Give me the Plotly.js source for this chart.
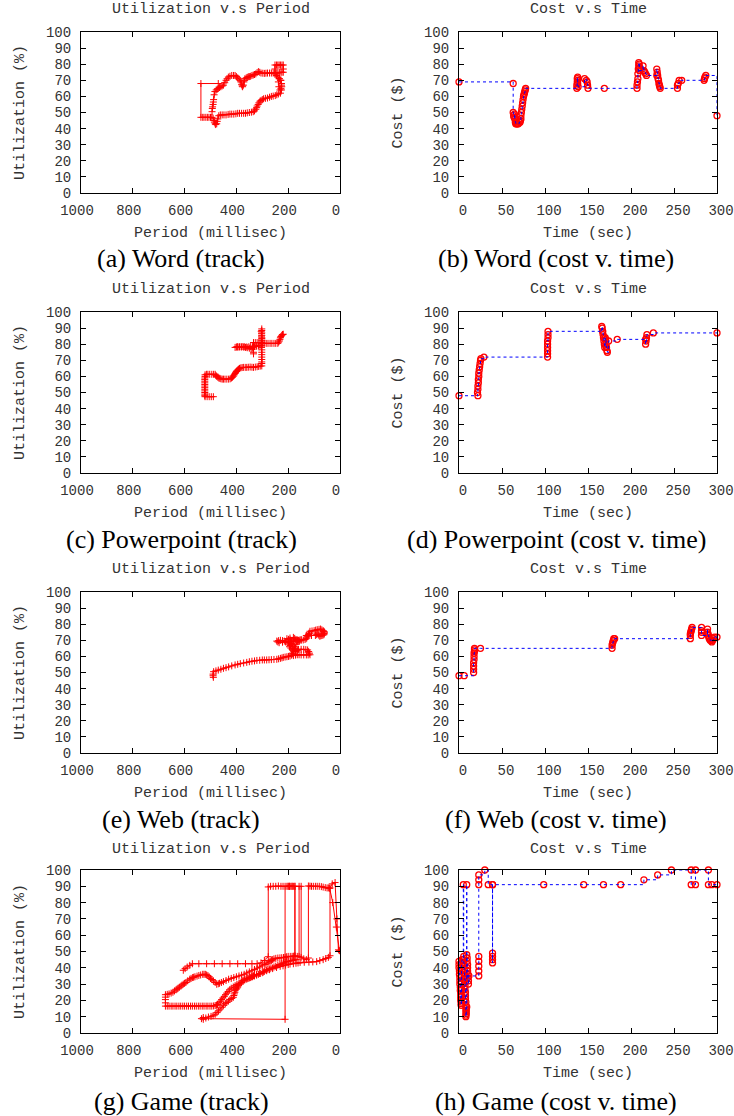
<!DOCTYPE html>
<html><head><meta charset="utf-8">
<script src="https://cdn.plot.ly/plotly-3.0.1.min.js"></script>
<style>html,body{margin:0;padding:0;background:#fff}#chart{width:734px;height:1116px}</style>
</head><body><div id="chart"></div>
<script>
// ---------- DATA ----------
// Track plots: [period (millisec), utilization (%)]
const wordTrack = [[470,68],[537,68],[537,47],[530,47],[525,47],[518,47],[512,47],[506,47],[500,47],[495,47],[490,46.5],[487,45],[485,44],[482,43],[480,42.5],[476,43],[474,44.5],[472,46],[468,48],[462,48.5],[455,48.5],[448,48.5],[440,48.5],[432,48.8],[425,49],[418,49],[410,49],[402,49.2],[395,49.5],[388,49.5],[380,49.5],[372,49.5],[365,49.5],[358,49.8],[350,50],[342,50.2],[335,50.5],[330,51],[325,52],[322,53],[320,54],[316,55],[313,56],[309,57],[305,57.5],[300,58],[295,58.5],[288,58.8],[280,59],[272,59.5],[265,60],[258,60.2],[250,60.5],[244,61],[238,61.5],[230,62],[226,64],[225,66],[226,68],[230,70],[235,71],[238,69],[236,66],[232,64],[228,65],[226,67],[228,70],[234,71],[240,72],[245,73],[250,74],[251,77],[251,79.5],[245,79.5],[240,79.5],[235,79.5],[230,79.5],[224,79.5],[219,79.5],[219,77],[219,75],[224,75],[228,75],[234,74.8],[240,74.5],[246,74.5],[252,74.5],[258,74.5],[265,74.5],[272,74.5],[280,74.5],[286,74.4],[292,74.3],[298,74.4],[305,74.5],[310,75],[315,75.4],[320,74.8],[325,74],[330,73.6],[335,73.3],[340,73],[345,72.5],[350,72.3],[354,72.2],[358,71.8],[362,71.5],[367,71],[369,70],[371,69],[373,67],[376,66],[378,66.5],[380,67.5],[383,69],[386,70],[390,70.8],[395,71.5],[400,72.3],[405,73],[411,73],[418,73],[425,72.5],[431,72],[436,71],[440,70],[445,68.5],[450,67],[455,66.5],[460,66],[465,65.5],[470,65],[474,64.5],[478,64],[483,63],[486,61],[488,58],[489,56.5],[490,55],[492,53.5],[493,52.5],[494,50.5]];
const pptTrack = [[489,47.4],[497,47.4],[505,47.4],[513,47.4],[521,47.4],[522,48],[522,49],[522,50],[522,51],[522,52],[522,53],[522,54],[522,55],[522,56],[522,57],[522,58],[522,59],[521,60],[521,61],[515,61.3],[510,61.3],[503,61.3],[495,61.3],[488,61.3],[482,61.3],[479,60.5],[476,60],[472,59.5],[468,59],[464,58.8],[460,58.5],[455,58.3],[450,58.3],[444,58.3],[437,58.3],[430,58.3],[424,58.5],[419,59],[415,59.5],[411,60.2],[408,61],[405,61.8],[403,62.5],[400,63],[398,63.5],[395,64],[392,64.5],[388,65],[383,65.3],[378,65.5],[373,65.6],[366,65.6],[360,65.6],[354,65.7],[347,65.8],[340,65.7],[334,65.6],[327,65.8],[320,66],[314,66.2],[308,66.4],[302,66.5],[302,68],[302,69],[302,70.5],[302,72],[302,73.5],[302,75],[302,76.5],[303,78],[302,79.5],[302,81],[302,82.5],[302,84],[302,85.5],[302,87],[302,88.5],[302,89.5],[304,88],[303,86.5],[303,85],[302,83.5],[302,82],[303,80.5],[303,79],[309,79],[315,79],[322,78.8],[330,78.5],[338,78.5],[345,78.5],[352,78.4],[360,78.3],[368,78.4],[375,78.5],[382,78.4],[390,78.2],[397,78.1],[405,78],[400,78.3],[395,78.5],[388,78.4],[380,78.3],[372,78.2],[365,78],[358,77.8],[350,77.5],[343,77.2],[336,77],[334,75],[334,74],[336,78],[334,81],[327,81],[320,81],[313,81],[305,81],[300,80.5],[293,80.5],[285,80.5],[278,80.5],[270,80.5],[263,80.5],[255,80.5],[248,80.5],[240,80.5],[237,81.3],[234,82],[232,83],[230,84],[228,84.8],[225,85.5],[222,86],[219,86.2]];
const webTrack = [[489,47],[490,48],[490,49],[488,50.5],[479,51],[470,51.5],[460,52],[450,52.6],[440,53],[430,53.5],[418,54.1],[405,54.7],[395,55.1],[385,55.5],[372,55.9],[360,56.3],[350,56.7],[340,57],[330,57.2],[321,57.5],[310,57.6],[300,57.8],[292,57.8],[283,57.8],[274,57.9],[265,58],[255,58.1],[244,58.2],[237,58.5],[230,58.8],[224,59.1],[219,59.4],[212,59.6],[205,59.8],[199,60],[193,60.2],[187,60.8],[182,61.5],[178,63],[182,63.8],[185,64.5],[190,65.2],[195,66],[192,66.8],[190,67.5],[187,68.2],[185,69],[189,69.6],[193,70.2],[199,70.6],[205,71],[193,71.4],[180,71.8],[175,71.2],[170,70.5],[165,70.2],[160,70],[155,70.2],[150,70.5],[165,70],[180,69.5],[190,69.2],[200,69],[208,69.2],[215,69.5],[222,69.8],[230,70],[237,69.8],[244,69.5],[240,69],[235,68.5],[222,68.8],[210,69],[200,68.5],[190,68],[182,66.5],[175,65],[172,64],[170,63],[165,63.7],[160,64.4],[150,64.4],[140,64.4],[132,64.2],[125,64],[121,63],[118,62],[116,61],[123,60.9],[130,60.9],[140,60.9],[150,60.9],[158,61],[165,61],[172,60.8],[180,60.5],[182,62],[178,64],[175,66],[170,67.5],[165,69],[157,69.5],[150,70],[142,70.2],[135,70.5],[131,71],[128,71.5],[125,72.5],[122,73.5],[119,74.5],[116,75.6],[108,75.8],[100,76],[94,76.3],[88,76.6],[81,76.8],[75,77],[70,76.5],[65,76],[62,75.5],[60,75],[61,74.2],[62,73.5],[66,73.2],[70,73],[74,72.8],[78,72.5],[82,73.2],[85,74],[90,73.5],[95,73],[110,73],[120,74],[130,73]];
const gameTrack = [[605,38.5],[598,39.5],[590,40.5],[580,41.5],[570,42.5],[545,42.5],[515,42.5],[485,42.5],[455,42.5],[425,42.5],[395,42.5],[365,42.5],[340,42.5],[320,42.5],[305,43],[292,44.5],[277,46.8],[277,89.6],[268,90],[258,90],[248,90],[238,90.2],[228,90],[220,90],[212,90],[212,8.4],[528,8.4],[535,8.8],[528,9.5],[518,9.2],[508,9.8],[498,10.2],[490,10.6],[482,11.5],[475,12.5],[469,13.6],[463,14.7],[456,15.8],[450,17],[443,18],[437,18.8],[431,19.6],[425,20.5],[418,21.2],[412,21.9],[410,23],[408,24],[406,25],[405,26],[401,26.8],[398,27.5],[395,28.2],[392,29],[386,30],[380,31],[374,32],[367,33.1],[358,33.5],[350,34],[342,34.5],[334,35.1],[322,35.8],[310,36.5],[296,37.4],[283,38.2],[272,38.8],[260,39.5],[245,40.2],[231,40.9],[220,41.2],[210,41.6],[200,42],[193,42.3],[180,42.5],[170,42.8],[162,43],[154,43.3],[138,43.4],[120,43.5],[105,43.6],[90,43.8],[78,44.4],[65,45],[55,45.7],[45,46.4],[38.6,47.4],[38.6,89],[30,91.5],[19,92.3],[12,70],[6,51],[2,50.5],[14,65],[28,80],[40,88.8],[45,89],[50,89],[57,89.2],[65,89.5],[72,89.8],[80,90],[88,90],[95,90],[103,90],[110,90],[116,90.1],[122,90.2],[122,46],[130,45],[140,45.5],[150,46.4],[150,90],[158,90],[158,47],[165,47],[174,47.2],[174,90],[180,90],[185,90],[190,90],[195,90],[200,90],[205,90],[200,90],[195,90],[185,90],[174,90],[174,47.2],[180,47.1],[185,47],[192,47],[200,47],[206,46.8],[212,46.5],[218,46.3],[225,46.2],[232,46.1],[240,46],[248,45.8],[255,45.5],[260,45],[265,44.5],[270,44],[275,43.5],[282,42.8],[290,42],[300,41.2],[310,40.5],[320,39.8],[330,39],[340,38.2],[350,37.5],[360,36.8],[370,36],[380,35.5],[390,35],[400,34.5],[410,34],[420,33.5],[430,33],[440,32.2],[450,31.5],[458,31],[465,30.5],[470,30.2],[476,29.9],[482,31],[489,32],[495,32.8],[500,33.5],[505,34.4],[510,35.2],[515,35.6],[520,36],[525,36],[530,36],[538,35.6],[545,35.3],[552,34.9],[560,34.5],[565,34.2],[569,34],[575,33.5],[580,33],[588,32],[595,31],[600,30.5],[605,30],[610,29.4],[614,28.8],[620,28.1],[625,27.5],[629,27],[633,26.5],[639,25.8],[645,25],[652,24.5],[660,24],[667,23.7],[674,23.5],[674,22],[674,20.5],[674,18.5],[674,16.5],[667,16.5],[660,16.5],[652,16.5],[645,16.5],[637,16.5],[630,16.5],[622,16.5],[615,16.5],[607,16.5],[600,16.5],[592,16.5],[585,16.5],[577,16.5],[570,16.5],[562,16.5],[555,16.5],[547,16.5],[540,16.5],[532,16.5],[525,16.5],[517,16.5],[510,16.5],[502,16.5],[495,16.5],[488,16.6],[482,16.8],[477,17.1],[473,17.5],[467,18.5],[462,19.5],[457,20.5],[452,21.5],[447,22.5],[442,23.5],[437,24.5],[432,25.5],[426,26.5],[420,27.5],[412,28.2],[405,29],[398,29.8],[390,30.5],[382,31.2],[375,32],[368,32.5],[360,33],[352,33.5],[345,34],[338,34.5],[330,35],[322,35.5],[315,36],[308,36.5],[300,37],[292,37.8],[285,38.5],[278,39],[270,39.5],[262,40],[255,40.5],[248,41],[240,41.5],[232,42],[225,42.5],[218,43],[212,43.5],[206,43.8],[200,44],[192,44.2],[185,44.5],[178,44.8],[170,45]];

// Cost plots: [time (sec), cost ($)]
const wordCost = [[0,69],[63,68],[63,50],[63.5,48],[64,47],[64.5,49],[65,46],[65.5,44],[66,43],[67,43],[68,43],[69,43],[70,44],[71,44],[71.5,45],[72,46],[72,48],[72.5,50],[73,52],[73.5,54],[74,56],[74.5,58],[75,60],[75.5,61],[76,62],[76.5,63],[77,64],[77.5,65],[137,65],[137,67],[137.5,69],[137.5,71],[138,72],[138,70],[138,68],[138.5,66],[146,71],[148,70],[149,69],[149.5,67],[150,65],[169,65],[207,65],[207,67],[207.5,69],[208,71],[208,74],[208.5,77],[209,79],[209,81],[209.5,80],[210,78],[210,76],[214,79],[215,76],[216,75],[217,74],[218,73],[230,73],[230,77],[230.5,75],[231,73],[231.5,71],[232,70],[232.5,68],[233,67],[233.5,66],[234,65],[254,65],[254,67],[255,68],[256,70],[259,70],[285,70],[285.5,71],[286,72],[287,73],[300,48]];
const pptCost = [[0,48],[22,48],[21.5,50],[22,52],[22,54],[22.5,56],[22.5,58],[23,60],[23,62],[23.5,64],[24,66],[24.5,68],[25,70],[25.5,71],[29,72],[103,72],[103,74],[103,76],[103,78],[103,80],[103,82],[103.5,84],[103.5,86],[103.5,88],[167,88],[166,91],[166.5,90],[167,88],[167.5,86],[168,84],[168.5,82],[169,80],[169.5,78],[170,84],[170.5,83],[171,80],[171.5,78],[172,76],[172.5,75],[174,82],[184,83],[217,83],[217,80],[217.5,82],[218,84],[218.5,86],[226,87],[300,87]];
const webCost = [[0,48],[6,48],[17,50],[17,52],[17,54],[17,56],[17.5,58],[17.5,60],[17.5,62],[18,63],[18,64],[18,65],[25,65],[178,65],[178,67],[178.5,68],[179,69],[179.5,70],[180,71],[181,71],[269,71],[269,73],[269,74],[269.5,75],[270,76],[270.5,77],[271,78],[282,78],[282,76],[282,75],[282,73],[289,77],[289,75],[289.5,74],[290,73],[290.5,72],[291,71],[292,70],[293,70],[294,69],[295,70],[296,71],[297,72],[300,72]];
const gameCost = [[0,44],[0,42],[0,40],[0.5,38],[0.5,36],[1,34],[1,32],[1,30],[1.5,28],[1.5,26],[2,24],[2,22],[2,20],[2.5,18],[2.5,17],[3,19],[3,23],[3,27],[3,31],[3,35],[3,39],[3,43],[3.5,45],[5,45],[5,91],[5.5,47],[5.5,43],[6,41],[6,39],[6,37],[6.5,35],[6.5,33],[7,31],[7,29],[7,27],[7.5,25],[7.5,23],[7.5,21],[8,19],[8,17],[8,15],[8,13],[8,11],[8,10],[8.5,12],[8.5,14],[9,16],[9,91],[9,48],[9.5,46],[9.5,44],[10,42],[10,40],[10,38],[10.5,36],[10.5,34],[11,32],[11,30],[11.5,35],[7,35],[23,35],[23,38],[23,41],[23,44],[23,47],[23,91],[23,94],[23,97],[30,100],[34,91],[39,91],[39,43],[39,45],[39,47],[39,49],[39,91],[98.5,91],[145,91],[168,91],[188,91],[215,94],[231,97],[247,100],[270,100],[270,91],[275,91],[275,100],[290,100],[290,91],[294,91],[300,91]];

const trackTicksX = [0,200,400,600,800,1000];
const costTicksX = [0,50,100,150,200,250,300];
const ticksY = [0,10,20,30,40,50,60,70,80,90,100];
const captions = ['(a) Word (track)','(b) Word (cost v. time)','(c) Powerpoint (track)','(d) Powerpoint (cost v. time)','(e) Web (track)','(f) Web (cost v. time)','(g) Game (track)','(h) Game (cost v. time)'];

// ---------- LAYOUT ----------
const W = 734, H = 1116;
const colPx = [[81,340],[459,717]];
const rowPx = [[32,193],[312,473],[592,753],[870,1033]];
const titleY = [9.5,289.5,569,849];
const capY = [259,539,819,1101];
const capX = [181,556];
const mono = 'Liberation Mono, Courier New, monospace';
const txt = '#333';

const panels = [
  {d:wordTrack,kind:'track'},{d:wordCost,kind:'cost'},
  {d:pptTrack,kind:'track'},{d:pptCost,kind:'cost'},
  {d:webTrack,kind:'track'},{d:webCost,kind:'cost'},
  {d:gameTrack,kind:'track'},{d:gameCost,kind:'cost'}
];

const traces = [];
const layout = {
  width:W, height:H, margin:{l:0,r:0,t:0,b:0}, showlegend:false,
  paper_bgcolor:'#fff', plot_bgcolor:'#fff', annotations:[]
};

panels.forEach((p,i)=>{
  const n = i+1, sfx = n===1?'':String(n);
  const col = i%2, row = Math.floor(i/2);
  const xs = p.d.map(v=>v[0]), ys = p.d.map(v=>v[1]);
  const xa = 'x'+sfx, ya = 'y'+sfx;
  if(p.kind==='track'){
    traces.push({x:xs,y:ys,xaxis:xa,yaxis:ya,type:'scatter',mode:'lines+markers',
      line:{color:'#ff0000',width:1},
      marker:{symbol:'cross-thin',size:5,color:'#ff0000',line:{color:'#ff0000',width:1}},
      hoverinfo:'skip'});
  } else {
    traces.push({x:xs,y:ys,xaxis:xa,yaxis:ya,type:'scatter',mode:'markers',cliponaxis:false,
      marker:{symbol:'circle-open',size:6,color:'#ff0000',line:{color:'#ff0000',width:1.3}},
      hoverinfo:'skip'});
    traces.push({x:xs,y:ys,xaxis:xa,yaxis:ya,type:'scatter',mode:'lines',
      line:{color:'#0000ff',width:1,dash:'dot',shape:'hv'},hoverinfo:'skip'});
  }
  const common = {showline:true,linecolor:'#000',linewidth:1,mirror:'ticks',ticks:'inside',ticklen:5,
    tickcolor:'#000',tickwidth:1,showgrid:false,zeroline:false,fixedrange:true,
    tickfont:{family:mono,size:14,color:txt}};
  layout['xaxis'+sfx] = Object.assign({}, common, {
    anchor:ya, domain:[colPx[col][0]/W, colPx[col][1]/W],
    range: p.kind==='track'?[1000,0]:[0,300],
    tickmode:'array', tickvals: p.kind==='track'?trackTicksX:costTicksX,
    ticklabelstandoff:4, ticklabelshift:4,
    title:{text: p.kind==='track'?'Period (millisec)':'Time (sec)', font:{family:mono,size:15,color:txt}, standoff:8}
  });
  layout['yaxis'+sfx] = Object.assign({}, common, {
    anchor:xa, domain:[1-rowPx[row][1]/H, 1-rowPx[row][0]/H],
    range:[0,100], tickmode:'array', tickvals:ticksY, ticklabelstandoff:6,
    title:{text: p.kind==='track'?'Utilization (%)':'Cost ($)', font:{family:mono,size:15,color:txt}, standoff:17}
  });
  layout.annotations.push({xref:'paper',yref:'paper',x:(colPx[col][0]+colPx[col][1])/2/W,y:1-titleY[row]/H,
    xanchor:'center',yanchor:'middle',showarrow:false,
    text: p.kind==='track'?'Utilization v.s Period':'Cost v.s Time',font:{family:mono,size:15,color:txt}});
  layout.annotations.push({xref:'paper',yref:'paper',x:capX[col]/W,y:1-capY[row]/H,
    xanchor:'center',yanchor:'middle',showarrow:false,text:captions[i],
    font:{family:'Liberation Serif, Times New Roman, serif',size:26,color:'#000'}});
});

Plotly.newPlot('chart', traces, layout, {displayModeBar:false, staticPlot:true});
</script></body></html>
